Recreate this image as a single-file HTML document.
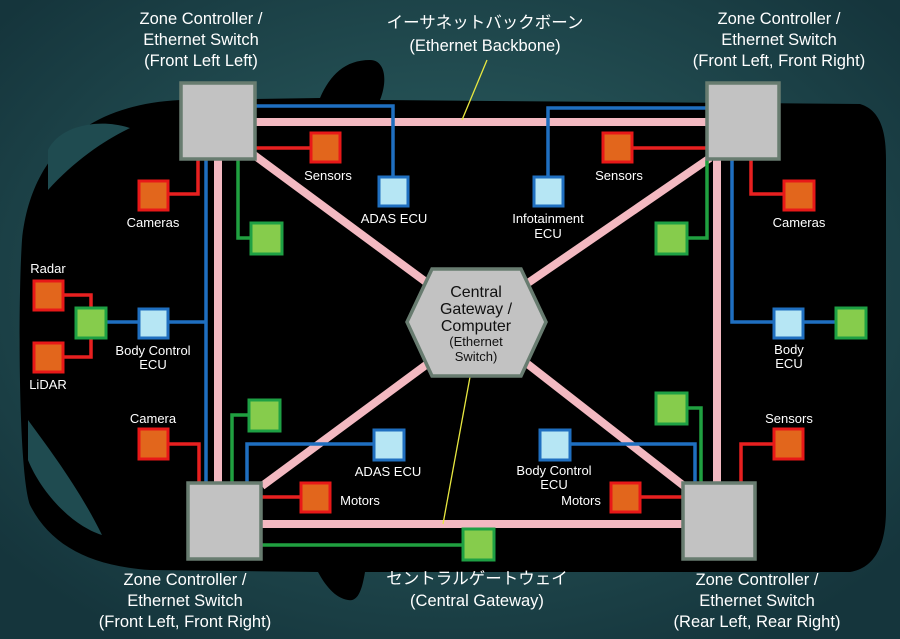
<!DOCTYPE html>
<html><head><meta charset="utf-8"><style>
html,body{margin:0;padding:0;}
body{width:900px;height:639px;overflow:hidden;background:#1d4248;}
svg{display:block}
text{font-family:"Liberation Sans","Noto Sans CJK JP",sans-serif;fill:#fff;text-anchor:middle}
</style></head><body>
<svg width="900" height="639" viewBox="0 0 900 639" xmlns="http://www.w3.org/2000/svg">
<defs>
<radialGradient id="bg" cx="50%" cy="45%" r="65%">
<stop offset="0" stop-color="#2f6466"/><stop offset="1" stop-color="#15353c"/>
</radialGradient>
</defs>
<rect width="900" height="639" fill="url(#bg)"/>
<!-- car body -->
<path d="M180,100 L320,98 C330,75 345,60 370,60 C385,60 388,80 380,100 L860,104 C880,110 886,130 886,160 L886,510 C886,545 875,568 850,572 L365,572 C362,590 358,602 348,600 C335,598 325,585 318,572 L150,570 C90,566 50,545 30,505 C18,470 18,300 22,240 C30,160 80,105 180,100 Z" fill="#000"/>
<path d="M48,150 C60,125 100,118 130,128 C105,140 75,160 48,190 Z" fill="#1f4b50"/>
<path d="M28,420 C50,450 80,490 102,535 C70,525 40,490 28,460 Z" fill="#1f4b50"/>
<!-- pink backbone -->
<g stroke="#f3b9c1" stroke-width="8" fill="none">
<line x1="256" y1="122" x2="706" y2="122"/>
<line x1="262" y1="524" x2="682" y2="524"/>
<line x1="218" y1="160" x2="218" y2="482"/>
<line x1="717" y1="160" x2="717" y2="482"/>
<line x1="254" y1="155" x2="430" y2="285"/>
<line x1="710" y1="158" x2="525" y2="285"/>
<line x1="262" y1="486" x2="430" y2="362"/>
<line x1="684" y1="486" x2="525" y2="362"/>
</g>
<!-- yellow pointers -->
<line x1="462" y1="120" x2="487" y2="60" stroke="#e8e840" stroke-width="1.3"/>
<line x1="443" y1="524" x2="470" y2="377" stroke="#e8e840" stroke-width="1.3"/>
<!-- blue -->
<g stroke="#1f6fc0" stroke-width="3.5" fill="none">
<polyline points="256,106 393,106 393,180"/>
<polyline points="206,160 206,482"/>
<line x1="106" y1="322" x2="206" y2="322"/>
<polyline points="706,108 548,108 548,180"/>
<polyline points="732,160 732,322 775,322"/>
<line x1="803" y1="322" x2="836" y2="322"/>
<polyline points="247,482 247,444 375,444"/>
<polyline points="695,482 695,444 568,444"/>
</g>
<!-- red -->
<g stroke="#e82020" stroke-width="3.5" fill="none">
<line x1="256" y1="148" x2="312" y2="148"/>
<polyline points="198,160 198,194 168,194"/>
<polyline points="62,295 91,295 91,310"/>
<polyline points="62,357 91,357 91,337"/>
<line x1="633" y1="148" x2="706" y2="148"/>
<polyline points="751,160 751,194 785,194"/>
<polyline points="168,444 199,444 199,482"/>
<line x1="262" y1="497" x2="302" y2="497"/>
<line x1="641" y1="497" x2="682" y2="497"/>
<polyline points="775,444 741,444 741,482"/>
</g>
<!-- green -->
<g stroke="#20a040" stroke-width="3.5" fill="none">
<polyline points="238,160 238,238 252,238"/>
<polyline points="707,160 707,238 687,238"/>
<polyline points="232,482 232,415 250,415"/>
<polyline points="701,482 701,408 687,408"/>
<line x1="262" y1="545" x2="463" y2="545"/>
</g>
<!-- device boxes -->
<g stroke-width="3">
<g fill="#e2661c" stroke="#e81818">
<rect x="311" y="133" width="29" height="29"/>
<rect x="139" y="181" width="29" height="29"/>
<rect x="34" y="281" width="29" height="29"/>
<rect x="34" y="343" width="29" height="29"/>
<rect x="603" y="133" width="29" height="29"/>
<rect x="784" y="181" width="30" height="29"/>
<rect x="139" y="429" width="29" height="30"/>
<rect x="301" y="483" width="29" height="29"/>
<rect x="611" y="483" width="29" height="29"/>
<rect x="774" y="429" width="29" height="30"/>
</g>
<g fill="#b6e6f4" stroke="#1f6fc0">
<rect x="379" y="177" width="29" height="29"/>
<rect x="139" y="309" width="29" height="29"/>
<rect x="534" y="177" width="29" height="29"/>
<rect x="774" y="309" width="29" height="29"/>
<rect x="374" y="430" width="30" height="30"/>
<rect x="540" y="430" width="30" height="30"/>
</g>
<g fill="#86cc4c" stroke="#1ea044">
<rect x="76" y="308" width="30" height="30"/>
<rect x="251" y="223" width="31" height="31"/>
<rect x="656" y="223" width="31" height="31"/>
<rect x="836" y="308" width="30" height="30"/>
<rect x="249" y="400" width="31" height="31"/>
<rect x="656" y="393" width="31" height="31"/>
<rect x="463" y="529" width="31" height="31"/>
</g>
</g>
<!-- zone controllers -->
<g fill="#c2c2c2" stroke="#687c70" stroke-width="3.5">
<rect x="181" y="83" width="74" height="76"/>
<rect x="707" y="83" width="72" height="76"/>
<rect x="188" y="483" width="73" height="76"/>
<rect x="683" y="483" width="72" height="76"/>
</g>
<!-- hexagon -->
<polygon points="432,269 521,269 546,322 521,376 432,376 407,322" fill="#c2c2c2" stroke="#687c70" stroke-width="3.5"/>
<g style="fill:#111">
<text x="476" y="297" font-size="16" style="fill:#111">Central</text>
<text x="476" y="314" font-size="16" style="fill:#111">Gateway /</text>
<text x="476" y="331" font-size="16" style="fill:#111">Computer</text>
<text x="476" y="346" font-size="13" style="fill:#111">(Ethernet</text>
<text x="476" y="361" font-size="13" style="fill:#111">Switch)</text>
</g>
<!-- titles -->
<g font-size="16.5">
<text x="201" y="24">Zone Controller /</text>
<text x="201" y="45">Ethernet Switch</text>
<text x="201" y="66">(Front Left Left)</text>
<text x="779" y="24">Zone Controller /</text>
<text x="779" y="45">Ethernet Switch</text>
<text x="779" y="66">(Front Left, Front Right)</text>
<text x="485" y="28">イーサネットバックボーン</text>
<text x="485" y="51">(Ethernet Backbone)</text>
<text x="185" y="585">Zone Controller /</text>
<text x="185" y="606">Ethernet Switch</text>
<text x="185" y="627">(Front Left, Front Right)</text>
<text x="477" y="584">セントラルゲートウェイ</text>
<text x="477" y="606">(Central Gateway)</text>
<text x="757" y="585">Zone Controller /</text>
<text x="757" y="606">Ethernet Switch</text>
<text x="757" y="627">(Rear Left, Rear Right)</text>
</g>
<g font-size="13">
<text x="328" y="180">Sensors</text>
<text x="394" y="223">ADAS ECU</text>
<text x="153" y="227">Cameras</text>
<text x="48" y="273">Radar</text>
<text x="153" y="355">Body Control</text>
<text x="153" y="369">ECU</text>
<text x="48" y="389">LiDAR</text>
<text x="548" y="223">Infotainment</text>
<text x="548" y="238">ECU</text>
<text x="619" y="180">Sensors</text>
<text x="799" y="227">Cameras</text>
<text x="789" y="354">Body</text>
<text x="789" y="368">ECU</text>
<text x="153" y="423">Camera</text>
<text x="388" y="476">ADAS ECU</text>
<text x="554" y="475">Body Control</text>
<text x="554" y="489">ECU</text>
<text x="360" y="505">Motors</text>
<text x="581" y="505">Motors</text>
<text x="789" y="423">Sensors</text>
</g>
</svg>
</body></html>
